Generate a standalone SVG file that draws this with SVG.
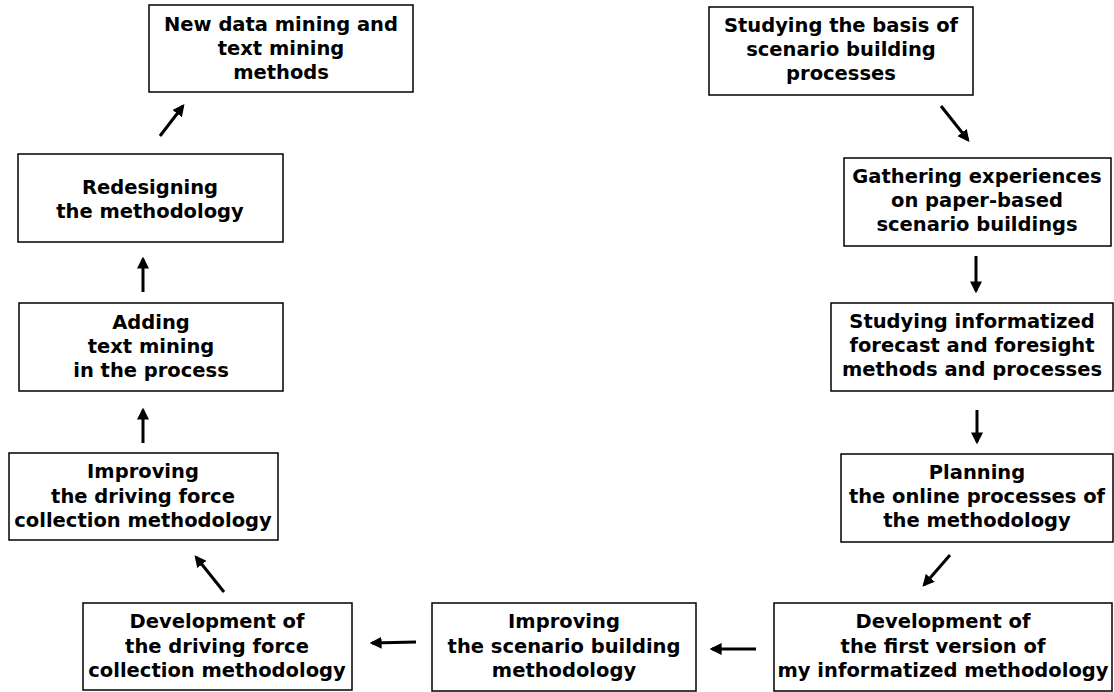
<svg xmlns="http://www.w3.org/2000/svg" width="1114" height="692" viewBox="0 0 1114 692">
<style>
.box{fill:#fff;stroke:#000;stroke-width:1.5}
text{font-family:"DejaVu Sans",sans-serif;font-weight:bold;font-size:19.5px;text-anchor:middle;fill:#000}
.arr{stroke:#000;stroke-width:3;fill:none;marker-end:url(#ah)}
</style>
<defs>
<marker id="ah" markerWidth="4" markerHeight="4" refX="3.2" refY="2" orient="auto" markerUnits="strokeWidth">
<path d="M0,0 L4,2 L0,4 Z" fill="#000"/>
</marker>
</defs>
<rect width="1114" height="692" fill="#fff"/>
<g id="n1"><rect class="box" x="149" y="5" width="264" height="87"/>
<text x="281" y="31">New data mining and</text><text x="281" y="55">text mining</text><text x="281" y="79">methods</text></g>
<g id="n2"><rect class="box" x="18" y="154" width="265" height="88"/>
<text x="150" y="194">Redesigning</text><text x="150" y="218">the methodology</text></g>
<g id="n3"><rect class="box" x="19" y="303" width="264" height="88"/>
<text x="151" y="329">Adding</text><text x="151" y="353">text mining</text><text x="151" y="377">in the process</text></g>
<g id="n4"><rect class="box" x="9" y="453" width="269" height="87"/>
<text x="143" y="478">Improving</text><text x="143" y="503">the driving force</text><text x="143" y="527">collection methodology</text></g>
<g id="n5"><rect class="box" x="83" y="603" width="269" height="87"/>
<text x="217" y="628">Development of</text><text x="217" y="653">the driving force</text><text x="217" y="677">collection methodology</text></g>
<g id="n6"><rect class="box" x="432" y="603" width="264" height="88"/>
<text x="564" y="628">Improving</text><text x="564" y="653">the scenario building</text><text x="564" y="677">methodology</text></g>
<g id="n7"><rect class="box" x="774" y="603" width="338" height="88"/>
<text x="943" y="628">Development of</text><text x="943" y="653">the first version of</text><text x="943" y="677">my informatized methodology</text></g>
<g id="n8"><rect class="box" x="709" y="7" width="264" height="88"/>
<text x="841" y="32">Studying the basis of</text><text x="841" y="56">scenario building</text><text x="841" y="80">processes</text></g>
<g id="n9"><rect class="box" x="844" y="158" width="267" height="88"/>
<text x="977" y="183">Gathering experiences</text><text x="977" y="207">on paper-based</text><text x="977" y="231">scenario buildings</text></g>
<g id="n10"><rect class="box" x="831" y="303" width="282" height="88"/>
<text x="972" y="328">Studying informatized</text><text x="972" y="352">forecast and foresight</text><text x="972" y="376">methods and processes</text></g>
<g id="n11"><rect class="box" x="841" y="454" width="272" height="88"/>
<text x="977" y="479">Planning</text><text x="977" y="503">the online processes of</text><text x="977" y="527">the methodology</text></g>
<g id="connectors">
<line class="arr" x1="160" y1="136" x2="183" y2="106"/>
<line class="arr" x1="143" y1="292" x2="143" y2="259"/>
<line class="arr" x1="143" y1="443" x2="143" y2="410"/>
<line class="arr" x1="224" y1="592" x2="196" y2="557"/>
<line class="arr" x1="416" y1="642" x2="372" y2="643"/>
<line class="arr" x1="756" y1="649" x2="712" y2="649"/>
<line class="arr" x1="941" y1="106" x2="968" y2="140"/>
<line class="arr" x1="976" y1="256" x2="976" y2="291"/>
<line class="arr" x1="977" y1="410" x2="977" y2="442"/>
<line class="arr" x1="950" y1="555" x2="924" y2="585"/>
</g>
</svg>
